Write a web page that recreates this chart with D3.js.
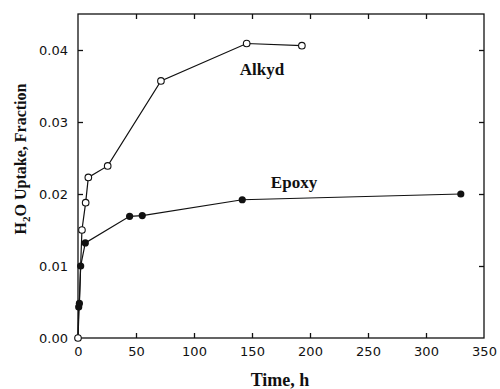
<!DOCTYPE html>
<html><head><meta charset="utf-8">
<script src="https://d3js.org/d3.v7.min.js"></script>
<style>body{margin:0;background:#fff}</style>
</head><body>
<svg id="c" width="500" height="389"></svg>
<script>
const alkydTime = [0, 3.4, 6.6, 8.9, 25.6, 71.5, 145.4, 193];
const alkydUptake = [0, 0.0150, 0.0188, 0.0223, 0.0239, 0.0357, 0.0409, 0.0406];
const epoxyTime = [0, 0.6, 1.2, 2.3, 6.3, 44.5, 55.4, 141.6, 330];
const epoxyUptake = [0, 0.0043, 0.0048, 0.0100, 0.0132, 0.0169, 0.0170, 0.0192, 0.0200];
const xTicks = [0, 50, 100, 150, 200, 250, 300, 350];
const yTicks = [0.00, 0.01, 0.02, 0.03, 0.04];

const svg = d3.select("#c");
const L = 78, R = 484, T = 14, B = 338;
const x = d3.scaleLinear().domain([0, 350]).range([L, R]);
const y = d3.scaleLinear().domain([0, 0.045]).range([B, T]);
const ink = "#111";

svg.append("rect").attr("x", L).attr("y", T).attr("width", R - L).attr("height", B - T)
  .attr("fill", "none").attr("stroke", ink).attr("stroke-width", 1.3);

const ax = svg.append("g").attr("transform", `translate(0,${B})`)
  .call(d3.axisBottom(x).tickValues(xTicks).tickFormat(d3.format("d")).tickSizeInner(-5).tickSizeOuter(0).tickPadding(9));
const ay = svg.append("g").attr("transform", `translate(${L},0)`)
  .call(d3.axisLeft(y).tickValues(yTicks).tickFormat(d3.format(".2f")).tickSizeInner(-5).tickSizeOuter(0).tickPadding(10));
const axT = svg.append("g").attr("transform", `translate(0,${T})`)
  .call(d3.axisTop(x).tickValues(xTicks.slice(1, -1)).tickFormat("").tickSizeInner(-5).tickSizeOuter(0));
const ayR = svg.append("g").attr("transform", `translate(${R},0)`)
  .call(d3.axisRight(y).tickValues(yTicks.slice(1)).tickFormat("").tickSizeInner(-5).tickSizeOuter(0));
[ax, ay, axT, ayR].forEach(g => {
  g.select(".domain").remove();
  g.selectAll(".tick line").attr("stroke", ink).attr("stroke-width", 1.3);
  g.selectAll(".tick text").attr("fill", ink).attr("font-family", "DejaVu Sans").attr("font-size", 13);
});
ax.selectAll(".tick").filter(d => d === 0 || d === 350).select("line").remove();
ay.selectAll(".tick").filter(d => d === 0).select("line").remove();

const line = d3.line().x(d => x(d[0])).y(d => y(d[1]));
const epoxy = epoxyTime.map((t, i) => [t, epoxyUptake[i]]);
const alkyd = alkydTime.map((t, i) => [t, alkydUptake[i]]);

svg.append("path").datum(epoxy).attr("d", line).attr("fill", "none").attr("stroke", ink).attr("stroke-width", 1.2);
svg.append("path").datum(alkyd).attr("d", line).attr("fill", "none").attr("stroke", ink).attr("stroke-width", 1.2);

svg.append("g").selectAll("circle").data(epoxy.slice(1)).join("circle")
  .attr("cx", d => x(d[0])).attr("cy", d => y(d[1])).attr("r", 3.6).attr("fill", ink);
svg.append("g").selectAll("circle").data(alkyd).join("circle")
  .attr("cx", d => x(d[0])).attr("cy", d => y(d[1])).attr("r", 3.3)
  .attr("fill", "#fff").attr("stroke", ink).attr("stroke-width", 1.1);

const serif = "Liberation Serif";
svg.append("text").attr("x", 262).attr("y", 75).attr("text-anchor", "middle")
  .attr("font-family", serif).attr("font-weight", "bold").attr("font-size", 17).attr("fill", ink).text("Alkyd");
svg.append("text").attr("x", 294).attr("y", 188).attr("text-anchor", "middle")
  .attr("font-family", serif).attr("font-weight", "bold").attr("font-size", 17).attr("fill", ink).text("Epoxy");
svg.append("text").attr("x", 280).attr("y", 386).attr("text-anchor", "middle")
  .attr("font-family", serif).attr("font-weight", "bold").attr("font-size", 18).attr("fill", ink).text("Time, h");

const yt = svg.append("text").attr("transform", "translate(26,159) rotate(-90)").attr("text-anchor", "middle")
  .attr("font-family", serif).attr("font-weight", "bold").attr("font-size", 16).attr("fill", ink);
yt.append("tspan").text("H");
yt.append("tspan").attr("font-size", 11).attr("dy", 4).text("2");
yt.append("tspan").attr("dy", -4).text("O Uptake, Fraction");
</script>
</body></html>
